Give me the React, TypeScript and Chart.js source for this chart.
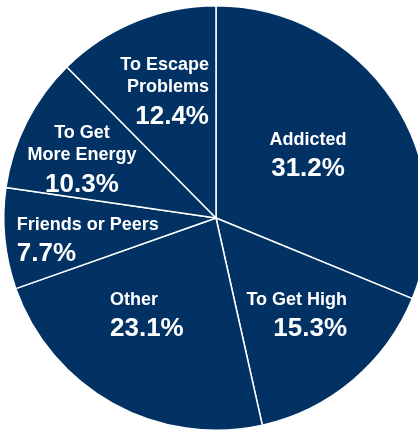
import React, { useEffect, useRef } from "react";
import { Chart, registerables } from "chart.js";

Chart.register(...registerables);

// Data
const categoryLines: string[][] = [
  ["Addicted"],
  ["To Get High"],
  ["Other"],
  ["Friends or Peers"],
  ["To Get", "More Energy"],
  ["To Escape", "Problems"],
];
const categories = categoryLines.map((l) => l.join(" "));
const percentages = [31.2, 15.3, 23.1, 7.7, 10.3, 12.4];

// Label placement styles (relative to each slice)
const labelRadius = [0.533, 0.76, 0.668, 0.943, 0.694, 0.609];
const labelAngleShift = [-1.7, -14.2, 19.4, 0, -2.3, 19.2];
const labelAlign: CanvasTextAlign[] = ["center", "right", "left", "left", "center", "right"];

const NAVY = "#023263";
const FONT = "'Liberation Sans', Arial, sans-serif";

const sliceLabels = {
  id: "sliceLabels",
  afterDatasetsDraw(chart: any) {
    const ctx = chart.ctx as CanvasRenderingContext2D;
    const meta = chart.getDatasetMeta(0);
    const values = chart.data.datasets[0].data as number[];
    meta.data.forEach((arc: any, i: number) => {
      const { x, y, startAngle, endAngle, outerRadius } = arc.getProps(
        ["x", "y", "startAngle", "endAngle", "outerRadius"],
        true
      );
      const mid = (startAngle + endAngle) / 2 + (labelAngleShift[i] * Math.PI) / 180;
      const r = outerRadius * labelRadius[i];
      const ax = x + r * Math.cos(mid);
      const ay = y + r * Math.sin(mid) + 2;
      const lines = categoryLines[i];
      const span = 22 * (lines.length - 1) + 29;
      let ly = ay - span / 2;
      ctx.save();
      ctx.fillStyle = "#ffffff";
      ctx.textAlign = labelAlign[i];
      ctx.textBaseline = "middle";
      ctx.font = `bold 18px ${FONT}`;
      lines.forEach((t, j) => {
        ctx.fillText(t, ax, ly);
        if (j < lines.length - 1) ly += 22;
      });
      ly += 29;
      ctx.font = `bold 26px ${FONT}`;
      ctx.fillText(values[i].toFixed(1) + "%", ax, ly);
      ctx.restore();
    });
  },
};

export default function App() {
  const canvasRef = useRef<HTMLCanvasElement | null>(null);

  useEffect(() => {
    if (!canvasRef.current) return;
    const chart = new Chart(canvasRef.current, {
      type: "pie",
      data: {
        labels: categories,
        datasets: [
          {
            data: percentages,
            backgroundColor: NAVY,
            borderColor: "#ffffff",
            borderWidth: 1.5,
          },
        ],
      },
      options: {
        responsive: false,
        animation: false,
        devicePixelRatio: 1,
        layout: { padding: { left: 3, right: 3, top: 5, bottom: 5 } },
        plugins: {
          legend: { display: false },
          tooltip: { enabled: false },
        },
      },
      plugins: [sliceLabels],
    });
    return () => chart.destroy();
  }, []);

  return (
    <div
      style={{
        position: "fixed",
        left: 0,
        top: 0,
        width: 418,
        height: 431,
        overflow: "hidden",
        background: "#ffffff",
      }}
    >
      <canvas ref={canvasRef} width={432} height={436} style={{ display: "block" }} />
    </div>
  );
}
